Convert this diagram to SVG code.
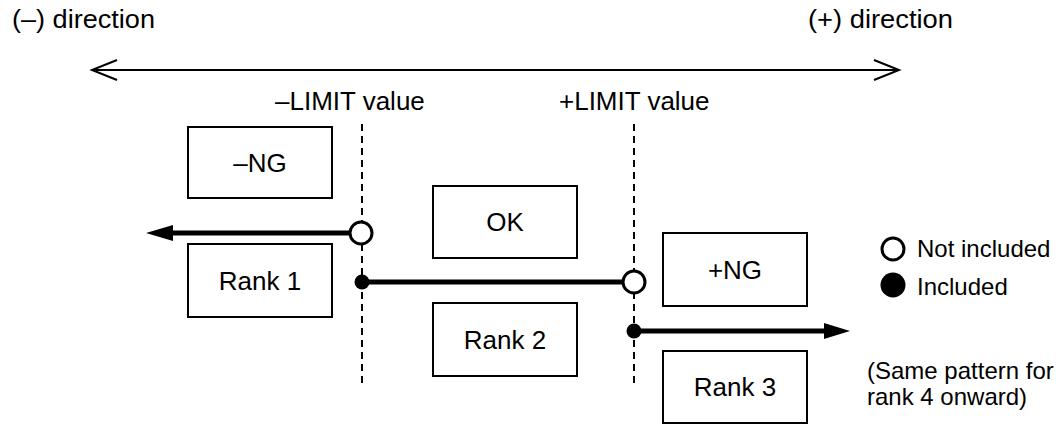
<svg xmlns="http://www.w3.org/2000/svg" width="1059" height="425" viewBox="0 0 1059 425">
<style>
text{font-family:"Liberation Sans",Arial,Helvetica,sans-serif;font-size:26px;fill:#000}
.legend text{font-size:24px}
.box rect{fill:#fff;stroke:#000;stroke-width:2}
.box text{text-anchor:middle}
.dash{stroke:#000;stroke-width:2;stroke-dasharray:7,5;fill:none}
.thick{stroke:#000;stroke-width:5;fill:none}
.open{fill:#fff;stroke:#000;stroke-width:3}
.dot{fill:#000}
.thin{fill:none;stroke:#000;stroke-width:2}
</style>
<g id="axis">
<text x="12" y="28" textLength="143" lengthAdjust="spacingAndGlyphs">(–) direction</text>
<text x="808" y="28" textLength="145" lengthAdjust="spacingAndGlyphs">(+) direction</text>
<line class="thin" x1="92" y1="70" x2="899" y2="70"/>
<polyline class="thin" points="117,60 92,70 117,80"/>
<polyline class="thin" points="874,60 899,70 874,80"/>
</g>
<g id="limits">
<text x="275" y="110">–LIMIT value</text>
<text x="559" y="110">+LIMIT value</text>
<line class="dash" x1="362" y1="124" x2="362" y2="383"/>
<line class="dash" x1="634" y1="124" x2="634" y2="385"/>
</g>
<g id="ng-minus" class="box"><rect x="188" y="127" width="144" height="71"/><text x="260" y="172">–NG</text></g>
<g id="ok" class="box"><rect x="433" y="186" width="144" height="72"/><text x="505" y="231">OK</text></g>
<g id="rank1" class="box"><rect x="188" y="244" width="144" height="73"/><text x="260" y="290">Rank 1</text></g>
<g id="rank2" class="box"><rect x="433" y="303" width="144" height="73"/><text x="505" y="349">Rank 2</text></g>
<g id="ng-plus" class="box"><rect x="663" y="233" width="144" height="73"/><text x="735" y="279">+NG</text></g>
<g id="rank3" class="box"><rect x="663" y="351" width="144" height="72"/><text x="735" y="396">Rank 3</text></g>
<g id="connectors">
<line class="thick" x1="350" y1="233" x2="168" y2="233"/>
<polygon points="146,233 173,225 173,241" fill="#000"/>
<circle class="open" cx="361" cy="233" r="11"/>
<line class="thick" x1="362" y1="282" x2="623" y2="282"/>
<circle class="dot" cx="362" cy="282" r="7.5"/>
<circle class="open" cx="634" cy="282" r="11"/>
<line class="thick" x1="634" y1="331" x2="830" y2="331"/>
<polygon points="850,331 824,323 824,339" fill="#000"/>
<circle class="dot" cx="634" cy="331" r="7.5"/>
</g>
<g id="legend" class="legend">
<circle class="open" cx="893" cy="249" r="11"/>
<text x="917" y="257">Not included</text>
<circle cx="893" cy="285" r="12.5" fill="#000"/>
<text x="917" y="295">Included</text>
<text x="867" y="379">(Same pattern for</text>
<text x="867" y="405">rank 4 onward)</text>
</g>
</svg>
